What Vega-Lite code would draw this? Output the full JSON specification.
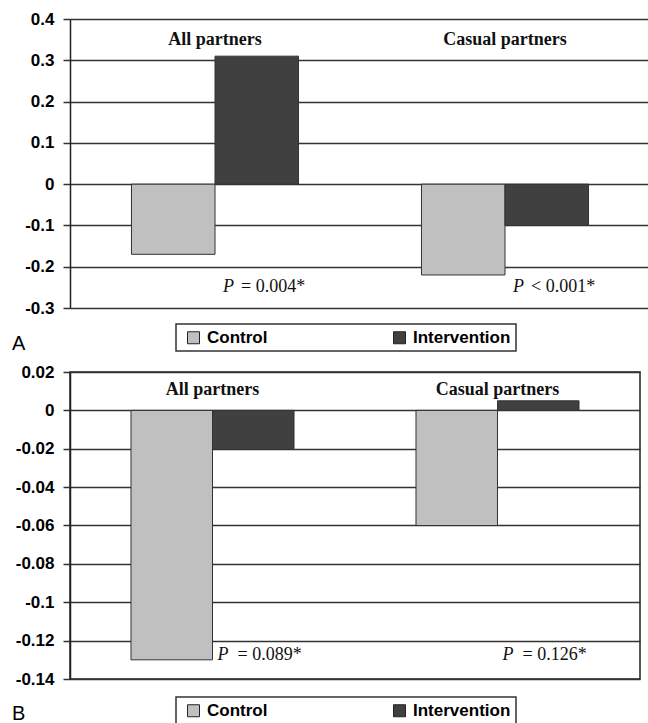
{
  "$schema": "https://vega.github.io/schema/vega-lite/v6.json",
  "padding": {"left": 11, "top": 10, "right": 0, "bottom": 0},
  "background": "white",
  "spacing": 8,
  "datasets": {
    "bars": [
      {"panel": "A", "group": "All partners", "arm": "Control", "value": -0.17},
      {"panel": "A", "group": "All partners", "arm": "Intervention", "value": 0.31},
      {"panel": "A", "group": "Casual partners", "arm": "Control", "value": -0.22},
      {"panel": "A", "group": "Casual partners", "arm": "Intervention", "value": -0.10},
      {"panel": "B", "group": "All partners", "arm": "Control", "value": -0.13},
      {"panel": "B", "group": "All partners", "arm": "Intervention", "value": -0.02},
      {"panel": "B", "group": "Casual partners", "arm": "Control", "value": -0.06},
      {"panel": "B", "group": "Casual partners", "arm": "Intervention", "value": 0.005}
    ],
    "stats": [
      {"panel": "A", "group": "All partners", "stat": "= 0.004*"},
      {"panel": "A", "group": "Casual partners", "stat": "< 0.001*"},
      {"panel": "B", "group": "All partners", "stat": "= 0.089*"},
      {"panel": "B", "group": "Casual partners", "stat": "= 0.126*"}
    ]
  },
  "config": {
    "view": {"stroke": null},
    "axis": {
      "labelFont": "Liberation Sans", "labelFontSize": 17, "labelFontWeight": "bold", "labelColor": "black",
      "gridColor": "#333", "gridWidth": 1.5, "domainColor": "#222", "domainWidth": 1.5,
      "tickColor": "#333", "tickWidth": 1.5, "tickSize": 7, "labelPadding": 9,
      "minExtent": 55, "maxExtent": 55, "grid": true, "labelOverlap": false, "labelBound": false,
      "tickCount": 20
    },
    "legend": {
      "orient": "none", "direction": "horizontal", "symbolType": "square", "symbolSize": 144,
      "symbolStrokeColor": "#222", "symbolStrokeWidth": 1, "labelFont": "Liberation Sans",
      "labelFontSize": 17, "labelFontWeight": "bold", "labelColor": "black", "columnPadding": 119,
      "padding": 5, "strokeColor": "#333", "strokeWidth": 1.5, "fillColor": "white",
      "symbolOffset": 4, "labelOffset": 5
    },
    "title": {"font": "Liberation Sans", "fontSize": 20, "fontWeight": "normal", "color": "black"}
  },
  "resolve": {
    "scale": {"x": "independent", "y": "independent", "color": "independent", "xOffset": "independent"},
    "legend": {"color": "independent"}
  },
  "vconcat": [
    {
      "width": 580,
      "height": 289,
      "title": {"text": "A", "orient": "bottom", "anchor": "start", "frame": "bounds", "offset": -18, "dx": -3},
      "layer": [
        {
          "data": {"name": "bars"},
          "transform": [{"filter": "datum.panel === 'A'"}],
          "mark": {"type": "bar", "stroke": "#333", "strokeWidth": 1},
          "encoding": {
            "x": {"field": "group", "type": "nominal", "sort": ["All partners", "Casual partners"], "scale": {"paddingInner": 0.424, "paddingOuter": 0.212}, "axis": null},
            "xOffset": {"field": "arm", "type": "nominal", "sort": ["Control", "Intervention"], "scale": {"paddingInner": 0, "paddingOuter": 0}},
            "y": {"field": "value", "type": "quantitative", "scale": {"domain": [-0.3, 0.4], "nice": false, "zero": false},
                  "axis": {"values": [0.4, 0.3, 0.2, 0.1, 0, -0.1, -0.2, -0.3], "tickCount": 20, "labelExpr": "toString(datum.value)", "title": null}},
            "color": {"field": "arm", "type": "nominal", "scale": {"domain": ["Control", "Intervention"], "range": ["#c0c0c0", "#404040"]},
                      "legend": {"title": null, "legendX": 106, "legendY": 305}}
          }
        },
        {
          "data": {"name": "stats"},
          "transform": [{"filter": "datum.panel === 'A'"}],
          "mark": {"type": "text", "font": "Liberation Serif", "fontSize": 18, "fontWeight": "bold", "baseline": "middle", "align": "center", "color": "#111"},
          "encoding": {
            "x": {"field": "group", "type": "nominal"},
            "y": {"datum": 0.35},
            "text": {"field": "group"}
          }
        },
        {
          "data": {"name": "stats"},
          "transform": [{"filter": "datum.panel === 'A'"}],
          "mark": {"type": "text", "font": "Liberation Serif", "fontSize": 18, "fontStyle": "italic", "baseline": "middle", "align": "left", "dx": 8, "color": "#111"},
          "encoding": {
            "x": {"field": "group", "type": "nominal"},
            "y": {"datum": -0.25},
            "text": {"value": "P"}
          }
        },
        {
          "data": {"name": "stats"},
          "transform": [{"filter": "datum.panel === 'A'"}],
          "mark": {"type": "text", "font": "Liberation Serif", "fontSize": 18, "baseline": "middle", "align": "left", "dx": 26, "color": "#111"},
          "encoding": {
            "x": {"field": "group", "type": "nominal"},
            "y": {"datum": -0.25},
            "text": {"field": "stat"}
          }
        }
      ]
    },
    {
      "width": 570,
      "height": 307,
      "view": {"stroke": "#222", "strokeWidth": 1.5},
      "title": {"text": "B", "orient": "bottom", "anchor": "start", "frame": "bounds", "offset": -21, "dx": -3},
      "layer": [
        {
          "data": {"name": "bars"},
          "transform": [{"filter": "datum.panel === 'B'"}],
          "mark": {"type": "bar", "stroke": "#333", "strokeWidth": 1},
          "encoding": {
            "x": {"field": "group", "type": "nominal", "sort": ["All partners", "Casual partners"], "scale": {"paddingInner": 0.428, "paddingOuter": 0.214}, "axis": null},
            "xOffset": {"field": "arm", "type": "nominal", "sort": ["Control", "Intervention"], "scale": {"paddingInner": 0, "paddingOuter": 0}},
            "y": {"field": "value", "type": "quantitative", "scale": {"domain": [-0.14, 0.02], "nice": false, "zero": false},
                  "axis": {"values": [0.02, 0, -0.02, -0.04, -0.06, -0.08, -0.1, -0.12, -0.14], "tickCount": 20, "labelExpr": "toString(datum.value)", "title": null}},
            "color": {"field": "arm", "type": "nominal", "scale": {"domain": ["Control", "Intervention"], "range": ["#c0c0c0", "#404040"]},
                      "legend": {"title": null, "legendX": 106, "legendY": 325}}
          }
        },
        {
          "data": {"name": "stats"},
          "transform": [{"filter": "datum.panel === 'B'"}],
          "mark": {"type": "text", "font": "Liberation Serif", "fontSize": 18, "fontWeight": "bold", "baseline": "middle", "align": "center", "color": "#111"},
          "encoding": {
            "x": {"field": "group", "type": "nominal"},
            "y": {"datum": 0.0105},
            "text": {"field": "group"}
          }
        },
        {
          "data": {"name": "stats"},
          "transform": [{"filter": "datum.panel === 'B'"}],
          "mark": {"type": "text", "font": "Liberation Serif", "fontSize": 18, "fontStyle": "italic", "baseline": "middle", "align": "left", "dx": 5, "color": "#111"},
          "encoding": {
            "x": {"field": "group", "type": "nominal"},
            "y": {"datum": -0.1275},
            "text": {"value": "P"}
          }
        },
        {
          "data": {"name": "stats"},
          "transform": [{"filter": "datum.panel === 'B'"}],
          "mark": {"type": "text", "font": "Liberation Serif", "fontSize": 18, "baseline": "middle", "align": "left", "dx": 25, "color": "#111"},
          "encoding": {
            "x": {"field": "group", "type": "nominal"},
            "y": {"datum": -0.1275},
            "text": {"field": "stat"}
          }
        }
      ]
    }
  ]
}
